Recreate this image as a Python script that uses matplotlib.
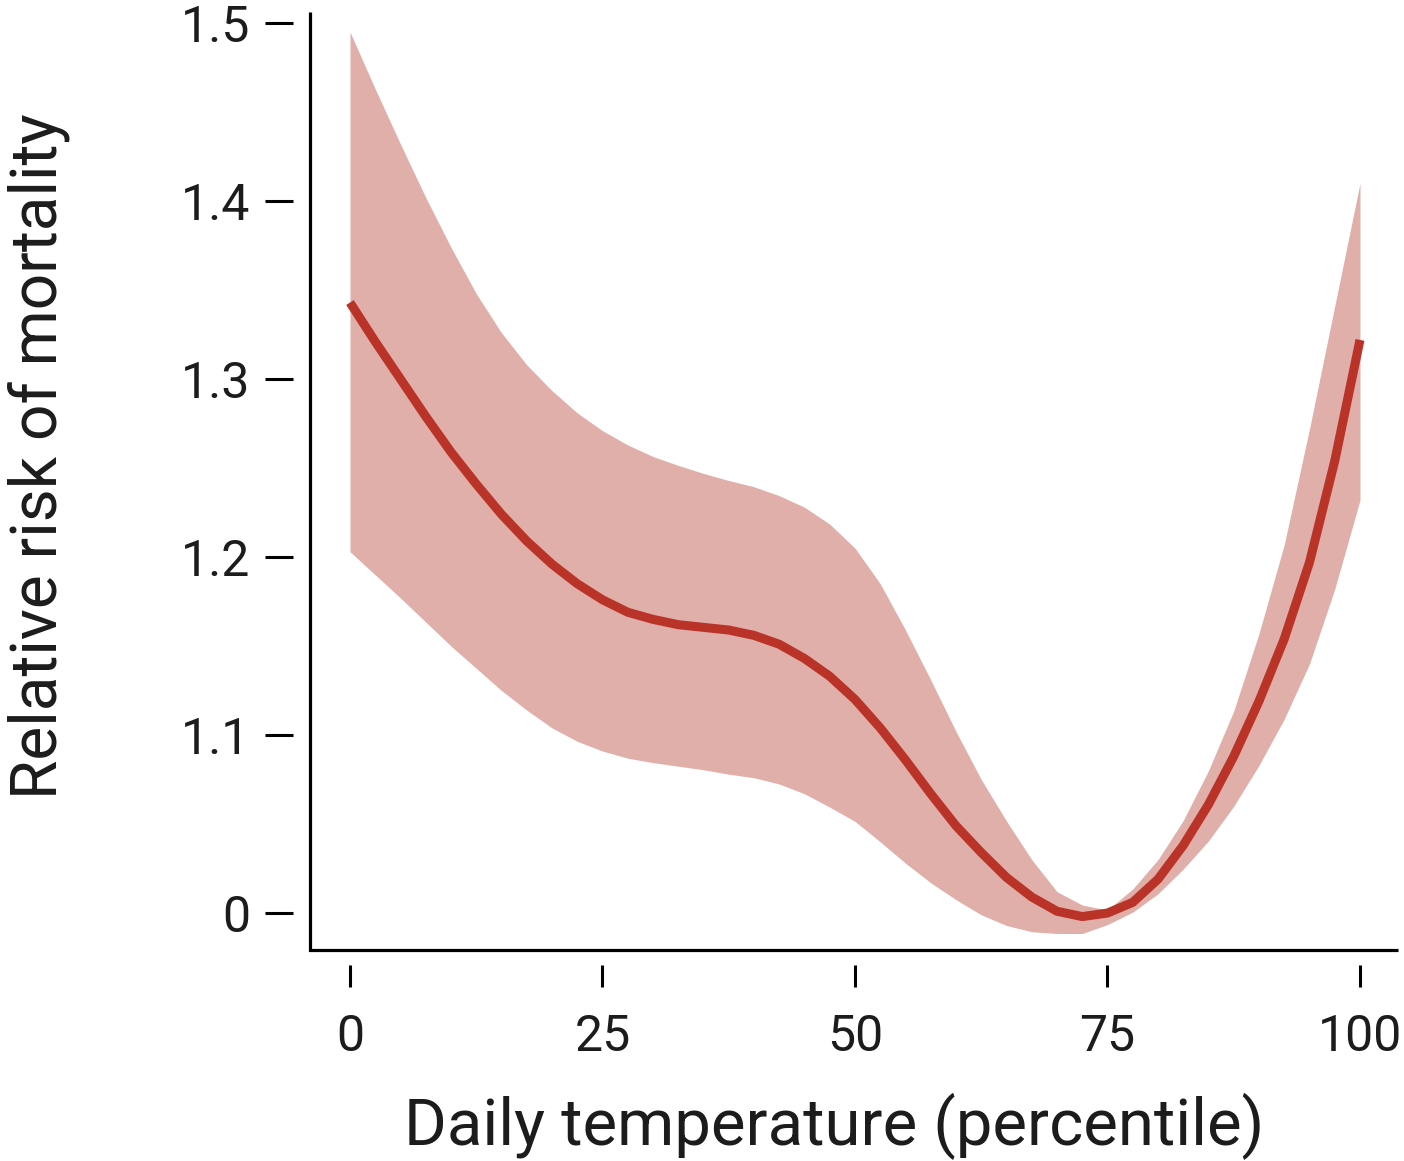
import matplotlib
matplotlib.use("Agg")
import matplotlib.pyplot as plt

# Daily temperature percentile grid
temp_pct = [0, 2.5, 5, 7.5, 10, 12.5, 15, 17.5, 20, 22.5,
            25, 27.5, 30, 32.5, 35, 37.5, 40, 42.5, 45, 47.5,
            50, 52.5, 55, 57.5, 60, 62.5, 65, 67.5, 70, 72.5,
            75, 77.5, 80, 82.5, 85, 87.5, 90, 92.5, 95, 97.5, 100]

# Relative risk of mortality (central estimate)
rr = [1.343, 1.321, 1.300, 1.279, 1.259, 1.241, 1.224, 1.209, 1.196, 1.185,
      1.176, 1.169, 1.165, 1.162, 1.1605, 1.159, 1.156, 1.151, 1.143, 1.133,
      1.120, 1.104, 1.086, 1.067, 1.049, 1.034, 1.020, 1.009, 1.001, 0.998,
      1.000, 1.006, 1.019, 1.038, 1.061, 1.088, 1.119, 1.154, 1.197, 1.254, 1.322]

# Confidence band
rr_upper = [1.495, 1.463, 1.432, 1.402, 1.374, 1.348, 1.326, 1.308, 1.2935, 1.281,
            1.271, 1.263, 1.2565, 1.2515, 1.247, 1.243, 1.2395, 1.2345, 1.228, 1.2185,
            1.205, 1.185, 1.159, 1.131, 1.102, 1.075, 1.0517, 1.030, 1.012, 1.0045,
            1.0017, 1.0135, 1.030, 1.052, 1.080, 1.1135, 1.157, 1.207, 1.272, 1.341, 1.410]

rr_lower = [1.203, 1.190, 1.177, 1.1635, 1.150, 1.1375, 1.125, 1.114, 1.104, 1.0965,
            1.091, 1.087, 1.0845, 1.0825, 1.0805, 1.078, 1.076, 1.0725, 1.067, 1.0595,
            1.0515, 1.040, 1.028, 1.017, 1.0075, 0.999, 0.993, 0.9895, 0.9885, 0.9885,
            0.9935, 1.0005, 1.0108, 1.0247, 1.0405, 1.060, 1.083, 1.109, 1.140, 1.182, 1.232]

x_ticks = [0, 25, 50, 75, 100]
x_tick_labels = ["0", "25", "50", "75", "100"]
y_ticks = [1.0, 1.1, 1.2, 1.3, 1.4, 1.5]
y_tick_labels = ["0", "1.1", "1.2", "1.3", "1.4", "1.5"]

LINE_COLOR = "#B93328"
BAND_COLOR = "#E1AFA9"
TEXT_COLOR = "#1c1c1c"

plt.rcParams["font.family"] = ["Roboto", "DejaVu Sans"]

fig = plt.figure(figsize=(14.04, 11.61), dpi=100)
ax = fig.add_axes([0.2208, 0.1817, 0.7749, 0.8079])

ax.fill_between(temp_pct, rr_lower, rr_upper, color=BAND_COLOR, lw=0, zorder=1)
ax.plot(temp_pct, rr, color=LINE_COLOR, lw=6.5, solid_capstyle="butt",
        solid_joinstyle="round", zorder=2)

ax.set_xlim(-3.96, 103.76)
ax.set_ylim(0.9792, 1.5062)

# Detached ticks: move the axis lines outward, hide them, then draw the frame
ax.spines["left"].set_position(("outward", 12.2))
ax.spines["bottom"].set_position(("outward", 10.8))
for side in ("left", "bottom", "top", "right"):
    ax.spines[side].set_visible(False)
ax.plot([0, 0, 1], [1, 0, 0], transform=ax.transAxes, color="black",
        lw=2.3, solid_joinstyle="miter", solid_capstyle="butt",
        clip_on=False, zorder=3)

ax.set_xticks(x_ticks)
ax.set_xticklabels(x_tick_labels)
ax.set_yticks(y_ticks)
ax.set_yticklabels(y_tick_labels)
ax.tick_params(axis="y", direction="out", length=20.2, width=2.2,
               pad=10.8, labelsize=36, colors="black", labelcolor=TEXT_COLOR)
ax.tick_params(axis="x", direction="out", length=15.8, width=2.2,
               pad=18.5, labelsize=36, colors="black", labelcolor=TEXT_COLOR)

ax.set_xlabel("Daily temperature (percentile)", fontsize=47, color=TEXT_COLOR)
ax.set_ylabel("Relative risk of mortality", fontsize=46, color=TEXT_COLOR)
ax.xaxis.set_label_coords(0.4816, -0.1525)
ax.yaxis.set_label_coords(-0.2206, 0.5267)

fig.savefig("out.png", dpi=100)
